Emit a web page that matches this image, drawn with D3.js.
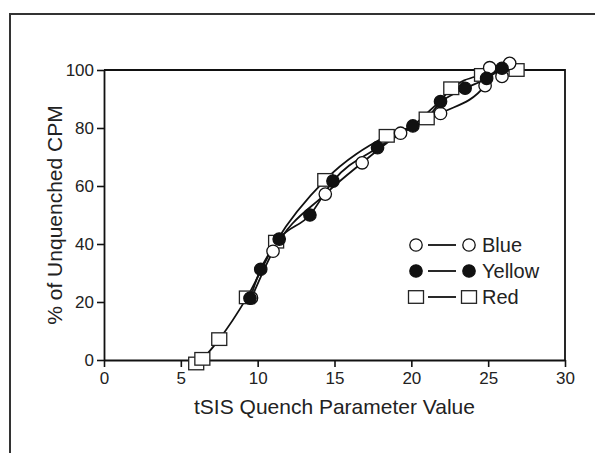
<!DOCTYPE html>
<html>
<head>
<meta charset="utf-8">
<script src="https://cdn.jsdelivr.net/npm/d3@7"></script>
<style>
  body { margin: 0; background: #fff; }
  text { font-family: "Liberation Sans", Arial, sans-serif; fill: #222; }
</style>
</head>
<body>
<script>
// values: [tSIS, % of unquenched CPM]
let blueData = [[9.6, 21.4], [11.0, 37.5], [14.4, 57.2], [16.8, 68.0], [19.3, 78.2],
  [21.9, 85.0], [24.8, 94.6], [25.1, 100.8], [25.9, 97.8], [26.4, 102.3]];
let yellowData = [[9.5, 21.3], [10.2, 31.3], [11.4, 41.7], [13.4, 50.0], [14.9, 61.7],
  [17.8, 73.2], [20.1, 80.7], [21.9, 89.1], [23.5, 93.7], [24.9, 97.1], [25.9, 100.6]];
let redData = [[6.0, -1.2], [6.4, 0.4], [7.5, 7.2], [9.3, 21.6], [11.2, 40.8],
  [14.4, 62.1], [18.4, 77.3], [21.0, 83.3], [22.6, 93.7], [24.6, 98.3], [26.85, 100]];
let seriesNames = ["Blue", "Yellow", "Red"];
let xTicks = [0, 5, 10, 15, 20, 25, 30];
let yTicks = [0, 20, 40, 60, 80, 100];

let width = 595, height = 453;
let svg = d3.select("body").append("svg")
  .attr("width", width)
  .attr("height", height);

// outer frame (runs off the page at right and bottom)
svg.append("rect")
  .attr("x", 10).attr("y", 14)
  .attr("width", 700).attr("height", 600)
  .style("fill", "none")
  .style("stroke", "#333")
  .style("stroke-width", 2);

let x = d3.scaleLinear().domain([0, 30]).range([104, 565]);
let y = d3.scaleLinear().domain([0, 100]).range([360, 70]);

// top + right sides of the plot box
svg.append("path")
  .attr("d", `M${x(0)},${y(100)}H${x(30)}V${y(0)}`)
  .style("fill", "none").style("stroke", "#111").style("stroke-width", 1.8);

let xaxis = d3.axisBottom(x).tickValues(xTicks).tickSize(7).tickSizeOuter(0).tickPadding(5);
let gx = svg.append("g").attr("transform", `translate(0,${y(0)})`).call(xaxis);
let yaxis = d3.axisLeft(y).tickValues(yTicks).tickSize(7).tickSizeOuter(0).tickPadding(3);
let gy = svg.append("g").attr("transform", `translate(${x(0)},0)`).call(yaxis);

[gx, gy].forEach(g => {
  g.select(".domain").style("stroke", "#111").style("stroke-width", 1.8);
  g.selectAll(".tick line").style("stroke", "#111").style("stroke-width", 1.6);
  g.selectAll(".tick text")
    .style("font-size", "17px")
    .style("font-family", "Liberation Sans, Arial, sans-serif")
    .style("fill", "#222");
});

svg.append("text")
  .attr("x", x(15)).attr("y", 414)
  .attr("text-anchor", "middle")
  .style("font-size", "21px")
  .text("tSIS Quench Parameter Value");

svg.append("text")
  .attr("transform", `translate(62,${y(50)}) rotate(-90)`)
  .attr("text-anchor", "middle")
  .style("font-size", "21px")
  .text("% of Unquenched CPM");

let line = d3.line()
  .x(d => x(d[0]))
  .y(d => y(d[1]))
  .curve(d3.curveMonotoneX);

let all = [redData, blueData, yellowData];
all.forEach(s => {
  svg.append("path")
    .datum(s)
    .attr("d", line)
    .style("fill", "none")
    .style("stroke", "#111")
    .style("stroke-width", 1.8);
});

// marker helpers
function drawMarker(g, kind, cx, cy) {
  if (kind === "Red") {
    g.append("rect")
      .attr("x", cx - 7.5).attr("y", cy - 6.3)
      .attr("width", 15).attr("height", 12.6)
      .style("fill", "#fff").style("stroke", "#222").style("stroke-width", 1.3);
  } else {
    g.append("circle")
      .attr("cx", cx).attr("cy", cy).attr("r", 6.2)
      .style("fill", kind === "Yellow" ? "#111" : "#fff")
      .style("stroke", "#111").style("stroke-width", 1.3);
  }
}

let markers = svg.append("g");
redData.forEach(d => drawMarker(markers, "Red", x(d[0]), y(d[1])));
blueData.forEach(d => drawMarker(markers, "Blue", x(d[0]), y(d[1])));
yellowData.forEach(d => drawMarker(markers, "Yellow", x(d[0]), y(d[1])));

// legend
let legend = svg.append("g");
seriesNames.forEach((name, i) => {
  let ly = 245 + i * 26;
  drawMarker(legend, name, 416, ly);
  legend.append("line")
    .attr("x1", 428).attr("x2", 456)
    .attr("y1", ly).attr("y2", ly)
    .style("stroke", "#111").style("stroke-width", 1.8);
  drawMarker(legend, name, 469, ly);
  legend.append("text")
    .attr("x", 482).attr("y", ly + 7)
    .style("font-size", "20px")
    .text(name);
});
</script>
</body>
</html>
